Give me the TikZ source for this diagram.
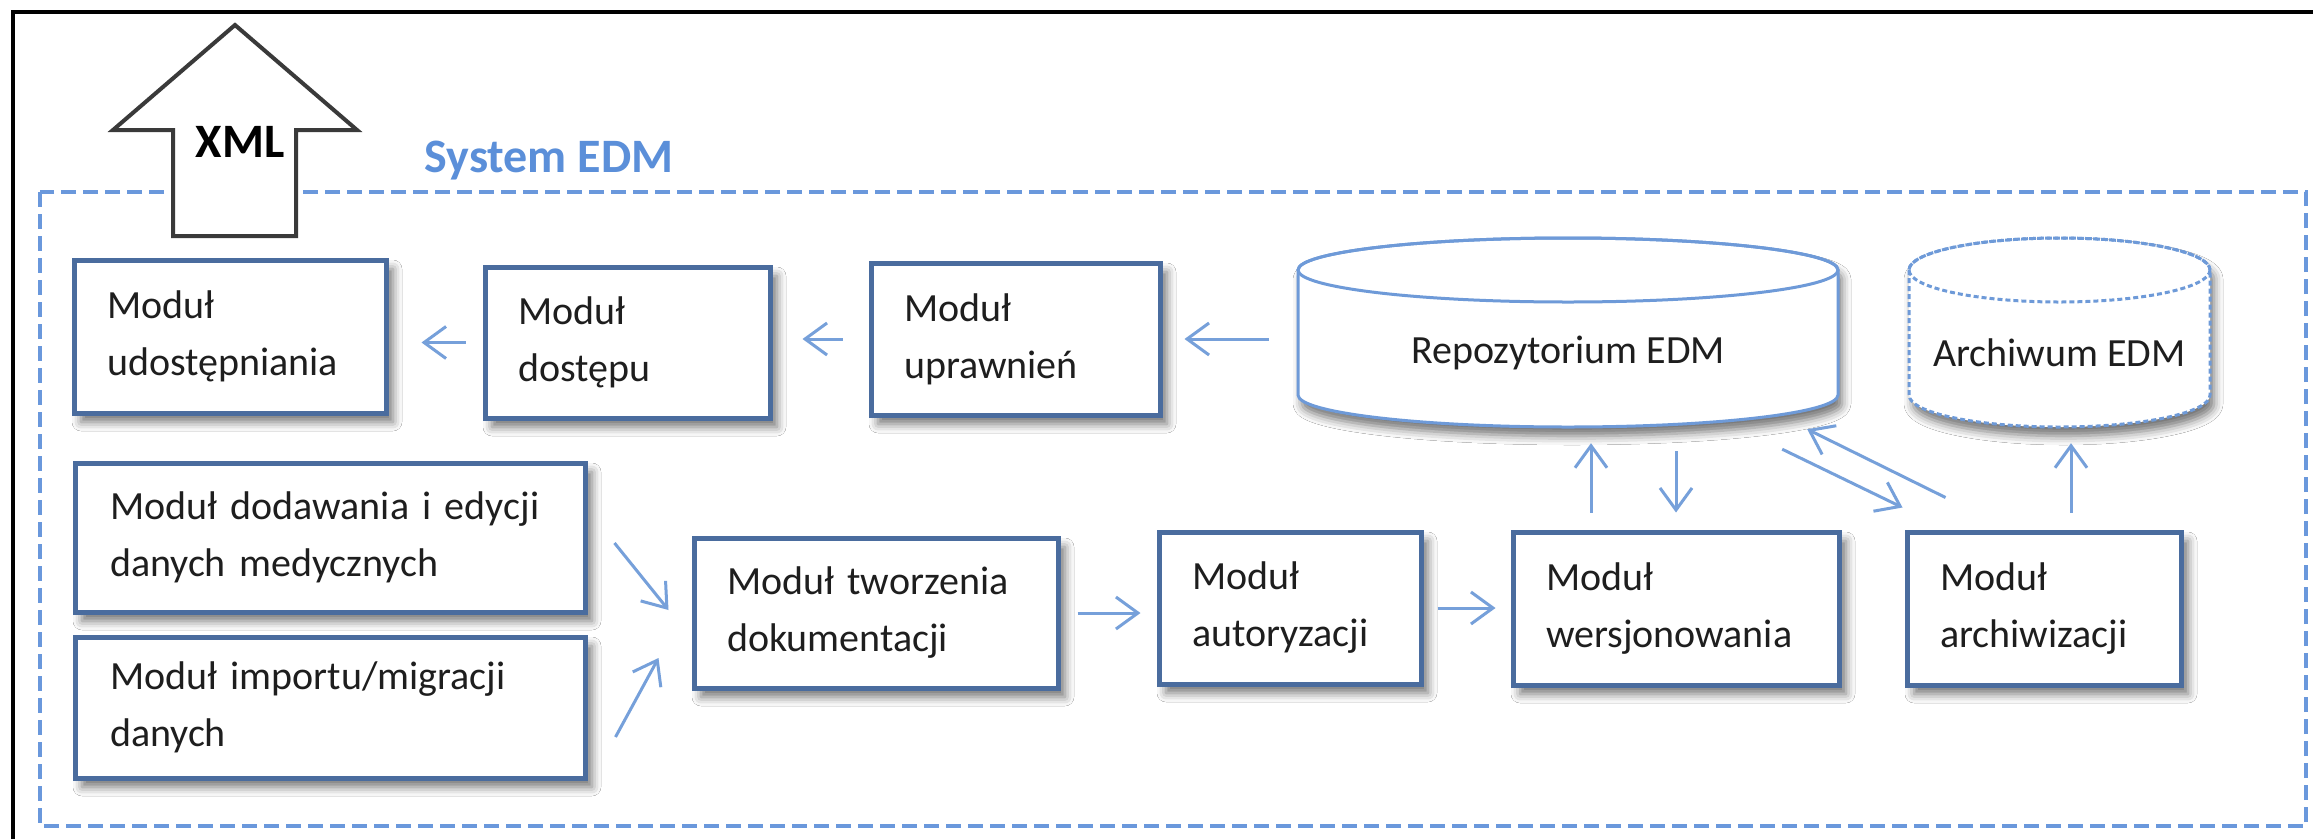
\documentclass[tikz,border=0pt]{standalone}
\usepackage{fontspec}
\setmainfont{Carlito}
\usetikzlibrary{arrows.meta,calc,shadows.blur}
\definecolor{boxblue}{HTML}{4A6C9E}
\definecolor{arrowblue}{HTML}{76A0DA}
\definecolor{cylblue}{HTML}{6E9AD8}
\definecolor{dashblue}{HTML}{6A98DC}
\definecolor{sysblue}{HTML}{5B8FD9}
\definecolor{txt}{HTML}{1E1E1E}
\definecolor{xmlgrey}{HTML}{3A3A3A}
\begin{document}
\begin{tikzpicture}[x=1pt,y=-1pt,
  modfont/.style={font=\fontsize{40}{57}\selectfont, text=txt},
  mod/.style={modfont, draw=boxblue, line width=5pt, fill=white, align=left,
    inner xsep=33pt, inner ysep=0pt,
    blur shadow={shadow xshift=7pt, shadow yshift=-9pt, shadow blur radius=9pt, shadow opacity=55}},
  arr/.style={draw=arrowblue, line width=3pt, -{Straight Barb[length=22pt,width=32pt]}},
  cyl/.style={draw=cylblue, line width=3pt, fill=white},
  cylshadow/.style={blur shadow={shadow xshift=4pt, shadow yshift=-9pt, shadow blur radius=9pt, shadow opacity=55}},
  cyllabel/.style={modfont, inner sep=0pt}
]
\useasboundingbox (0,0) rectangle (2313,839);
\fill[white] (0,0) rectangle (2313,839);

% outer black frame
\draw[line width=4pt, black] (13,839) -- (13,12) -- (2313,12);

% dashed system boundary
\draw[dashblue, line width=4pt, dash pattern=on 15pt off 7pt] (40,192) rectangle (2306,826);
\node[font=\fontsize{48}{56}\selectfont\bfseries, text=sysblue, inner sep=0pt] (sys) at (549,161) {System EDM};

% XML arrow
\draw[xmlgrey, line width=4pt, fill=white, line join=miter]
  (235,25) -- (357,130) -- (296,130) -- (296,236) -- (173,236) -- (173,130) -- (113,130) -- cycle;
\node[font=\fontsize{48}{56}\selectfont\bfseries, text=black, inner sep=0pt] (xml) at (240,142) {XML};

% module boxes
\node[mod, minimum width=312pt, minimum height=153pt, text width=246pt] (udostep) at (230,336.5) {Moduł\\udostępniania};
\node[mod, minimum width=285pt, minimum height=151pt, text width=219pt] (dostep) at (627.5,342.5) {Moduł\\dostępu};
\node[mod, minimum width=289pt, minimum height=152pt, text width=223pt] (uprawn) at (1015.5,339) {Moduł\\uprawnień};
\node[mod, minimum width=510pt, minimum height=149pt, text width=440pt, inner xsep=35pt] (dodaw) at (330,537.5) {Moduł dodawania i edycji\\danych medycznych};
\node[mod, minimum width=510pt, minimum height=141pt, text width=440pt, inner xsep=35pt] (importu) at (330,707.5) {Moduł importu/migracji\\danych};
\node[mod, minimum width=364pt, minimum height=150pt, text width=298pt] (tworz) at (876,613) {Moduł tworzenia\\dokumentacji};
\node[mod, minimum width=262pt, minimum height=152pt, text width=196pt] (autor) at (1290,608) {Moduł\\autoryzacji};
\node[mod, minimum width=326pt, minimum height=153pt, text width=260pt] (wersj) at (1676,608.5) {Moduł\\wersjonowania};
\node[mod, minimum width=274pt, minimum height=153pt, text width=208pt] (archiw) at (2044,608.5) {Moduł\\archiwizacji};

% Repozytorium cylinder
\path[cyl, cylshadow]
  (1298,270) -- (1298,395) arc[start angle=180, end angle=0, x radius=270, y radius=32]
  -- (1838,270) arc[start angle=0, end angle=-180, x radius=270, y radius=32] -- cycle;
\draw[cylblue, line width=3pt] (1568,270) ellipse[x radius=270, y radius=32];
\node[inner sep=0pt, minimum width=540pt, minimum height=189pt] (repo) at (1568,332.5) {};
\node[cyllabel] (repotxt) at ($(repo.center)+(0,20)$) {Repozytorium EDM};

% Archiwum cylinder (dashed)
\path[cyl, dash pattern=on 5pt off 3pt, cylshadow]
  (1909,270) -- (1909,395) arc[start angle=180, end angle=0, x radius=150.5, y radius=32]
  -- (2210,270) arc[start angle=0, end angle=-180, x radius=150.5, y radius=32] -- cycle;
\draw[cylblue, line width=3pt, dash pattern=on 5pt off 3pt] (2059.5,270) ellipse[x radius=150.5, y radius=32];
\node[inner sep=0pt, minimum width=301pt, minimum height=189pt] (archiwum) at (2059.5,332.5) {};
\node[cyllabel] (archtxt) at ($(archiwum.center)+(0,20)$) {Archiwum EDM};

% connectors
\draw[arr, shorten <=17pt, shorten >=33pt] (dostep.west) -- (dostep.west -| udostep.east);
\draw[arr, shorten <=26pt, shorten >=30pt] (uprawn.west) -- (uprawn.west -| dostep.east);
\draw[arr, shorten <=29pt, shorten >=22pt] (uprawn.east -| repo.west) -- (uprawn.east);
\draw[arr] ($(dodaw.east)+(27,5.5)$) -- ($(tworz.west)+(-23,-3)$);
\draw[arr] ($(importu.east)+(28,29.5)$) -- ($(tworz.west)+(-33,45)$);
\draw[arr, shorten <=17pt, shorten >=16pt] (tworz.east) -- (tworz.east -| autor.west);
\draw[arr, shorten <=14pt, shorten >=15pt] (autor.east) -- (autor.east -| wersj.west);
\coordinate (t8) at ($(wersj.north)+(-85,-17)$);
\draw[arr, shorten >=16pt] (t8) -- (t8 |- repo.south);
\coordinate (h9) at ($(wersj.north)+(0,-17)$);
\draw[arr, shorten <=24pt] (h9 |- repo.south) -- (h9);
\draw[arr] ($(repo.south east)+(-56,22)$) -- ($(archiw.north west)+(-2,-22)$);
\draw[arr] ($(archiw.north west)+(41,-32)$) -- ($(repo.south east)+(-31,2)$);
\coordinate (t12) at ($(archiw.north)+(27,-17)$);
\draw[arr, shorten >=16pt] (t12) -- (t12 |- archiwum.south);
\end{tikzpicture}
\end{document}
